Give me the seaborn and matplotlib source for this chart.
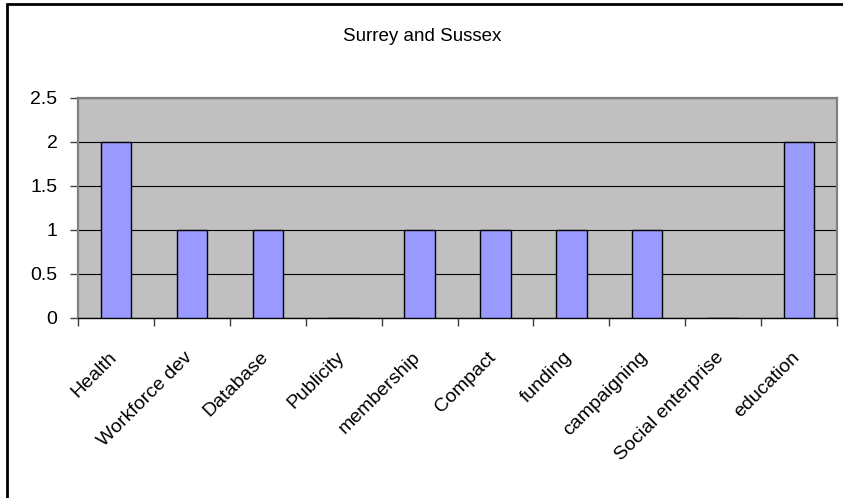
import matplotlib
matplotlib.use("Agg")
import matplotlib.pyplot as plt
import matplotlib.transforms as mtransforms
from matplotlib.patches import Rectangle
from matplotlib.ticker import FixedLocator
import seaborn as sns
import pandas as pd

categories = ["Health", "Workforce dev", "Database", "Publicity", "membership",
              "Compact", "funding", "campaigning", "Social enterprise", "education"]
counts = [2, 1, 1, 0, 1, 1, 1, 1, 0, 2]
y_ticks = [0, 0.5, 1, 1.5, 2, 2.5]
y_tick_labels = ["0", "0.5", "1", "1.5", "2", "2.5"]
title = "Surrey and Sussex"

df = pd.DataFrame({"category": categories, "count": counts})

sns.set_theme(style="white")
plt.rcParams["font.family"] = ["Liberation Sans", "DejaVu Sans"]

fig = plt.figure(figsize=(8.43, 4.98), dpi=100)
fig.patch.set_facecolor("white")
W, H = 843, 498
left, right, top, bottom = 78, 837, 98, 318
ax = fig.add_axes([left / W, 1 - bottom / H, (right - left) / W, (bottom - top) / H])

sns.barplot(data=df, x="category", y="count", color="#9999FF", saturation=1,
            width=0.4, edgecolor="black", linewidth=1.0, ax=ax, zorder=3)

ax.set_facecolor("#C0C0C0")
ax.set_xlim(-0.5, len(categories) - 0.5)
ax.set_yticks(y_ticks, labels=y_tick_labels)
ax.set_ylim(0, 2.5)
ax.grid(axis="y", color="black", linewidth=0.8, zorder=1)
ax.set_axisbelow(True)
ax.set_xlabel("")
ax.set_ylabel("")

for side in ["top", "right", "left"]:
    ax.spines[side].set_color("#808080")
    ax.spines[side].set_linewidth(1.6)
ax.spines["bottom"].set_color("black")
ax.spines["bottom"].set_linewidth(1.0)

# ticks sit on category boundaries; labels sit at category centres
ax.xaxis.set_minor_locator(FixedLocator([i - 0.5 for i in range(len(categories) + 1)]))
ax.tick_params(bottom=True, left=True, which="both")
ax.tick_params(axis="x", which="minor", length=5.5, width=1, color="#404040", direction="out")
ax.tick_params(axis="x", which="major", length=0, pad=22, labelsize=14, colors="black")
ax.tick_params(axis="y", which="major", length=5.8, width=1, color="#404040",
               direction="out", labelsize=14, pad=9, colors="black")

offset = mtransforms.ScaledTranslation(-8 / 100, 0, fig.dpi_scale_trans)
for lab in ax.get_xticklabels():
    lab.set_rotation(45)
    lab.set_ha("right")
    lab.set_va("top")
    lab.set_rotation_mode("anchor")
    lab.set_transform(lab.get_transform() + offset)

fig.text(422 / W, 1 - 41 / H, title, ha="center", va="baseline", fontsize=13.5, color="black")

# outer chart frame
fig.patches.append(Rectangle((6.5 / W, -0.1), 1.2, 1 - 4.5 / H + 0.1,
                             transform=fig.transFigure, fill=False,
                             edgecolor="black", linewidth=2))

fig.savefig("out.png", dpi=100)
